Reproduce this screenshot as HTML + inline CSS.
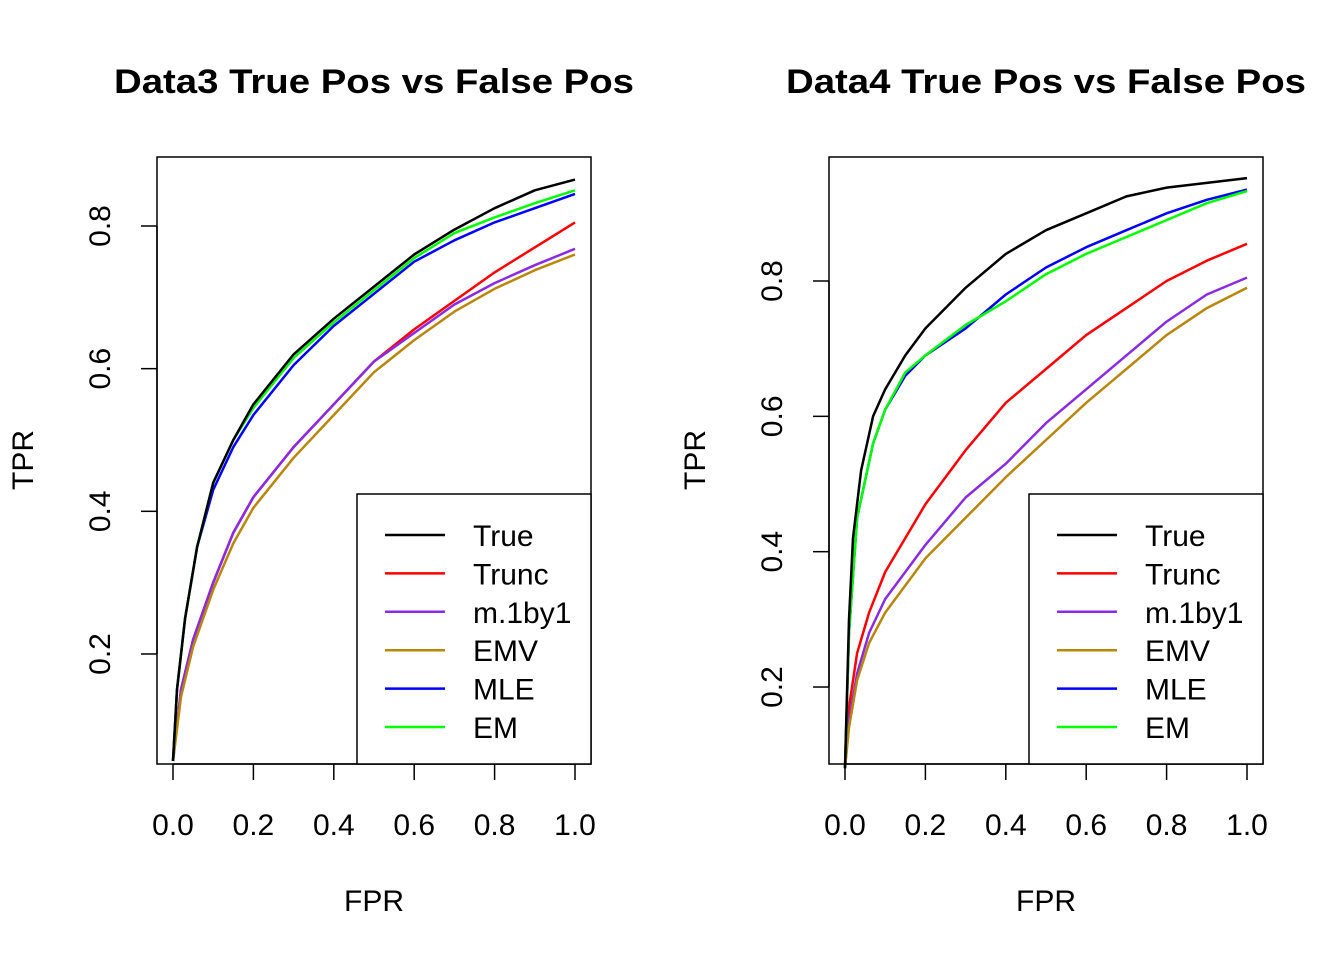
<!DOCTYPE html>
<html><head><meta charset="utf-8"><style>
html,body{margin:0;padding:0;background:#fff}
svg{display:block;font-family:"Liberation Sans",Arial,sans-serif}
</style></head><body>
<svg id="s" width="1344" height="960" xmlns="http://www.w3.org/2000/svg"></svg>
<script>
const s=document.getElementById('s');
let h='';
const cols={True:'#000',Trunc:'#ff0000','m.1by1':'#8a2be2',EMV:'#b8860b',MLE:'#0000ff',EM:'#00ff00'};
const panels=[
 {bx:157,x0:173,x1:575,yref:226,vref:0.8,ppu:713.3,title:'Data3 True Pos vs False Pos',cx:374,
  ticks:[0.2,0.4,0.6,0.8],
  data:{
   True:[[0,.05],[.01,.15],[.03,.25],[.06,.35],[.1,.44],[.15,.5],[.2,.55],[.3,.62],[.4,.67],[.5,.715],[.6,.76],[.7,.795],[.8,.825],[.9,.85],[1,.865]],
   Trunc:[[0,.05],[.02,.15],[.05,.22],[.1,.3],[.15,.37],[.2,.42],[.3,.49],[.4,.55],[.5,.61],[.6,.655],[.7,.695],[.8,.735],[.9,.77],[1,.805]],
   'm.1by1':[[0,.05],[.02,.15],[.05,.22],[.1,.3],[.15,.37],[.2,.42],[.3,.49],[.4,.55],[.5,.61],[.6,.65],[.7,.69],[.8,.72],[.9,.745],[1,.768]],
   EMV:[[0,.05],[.02,.14],[.05,.21],[.1,.29],[.15,.355],[.2,.405],[.3,.475],[.4,.535],[.5,.595],[.6,.64],[.7,.68],[.8,.712],[.9,.738],[1,.76]],
   MLE:[[0,.05],[.01,.15],[.03,.25],[.06,.35],[.1,.43],[.15,.49],[.2,.535],[.3,.605],[.4,.66],[.5,.705],[.6,.75],[.7,.78],[.8,.805],[.9,.825],[1,.845]],
   EM:[[0,.05],[.01,.15],[.03,.25],[.06,.35],[.1,.44],[.15,.5],[.2,.545],[.3,.615],[.4,.665],[.5,.71],[.6,.755],[.7,.79],[.8,.812],[.9,.832],[1,.85]]}},
 {bx:829,x0:845,x1:1247,yref:281,vref:0.8,ppu:676.7,title:'Data4 True Pos vs False Pos',cx:1046,
  ticks:[0.2,0.4,0.6,0.8],
  data:{
   True:[[0,.08],[.01,.3],[.02,.42],[.04,.52],[.07,.6],[.1,.64],[.15,.69],[.2,.73],[.3,.79],[.4,.84],[.5,.875],[.6,.9],[.7,.925],[.8,.938],[.9,.945],[1,.952]],
   Trunc:[[0,.08],[.01,.17],[.03,.25],[.06,.31],[.1,.37],[.15,.42],[.2,.47],[.3,.55],[.4,.62],[.5,.67],[.6,.72],[.7,.76],[.8,.8],[.9,.83],[1,.855]],
   'm.1by1':[[0,.08],[.01,.15],[.03,.22],[.06,.28],[.1,.33],[.15,.37],[.2,.41],[.3,.48],[.4,.53],[.5,.59],[.6,.64],[.7,.69],[.8,.74],[.9,.78],[1,.805]],
   EMV:[[0,.08],[.01,.14],[.03,.21],[.06,.265],[.1,.31],[.15,.35],[.2,.39],[.3,.45],[.4,.51],[.5,.565],[.6,.62],[.7,.67],[.8,.72],[.9,.76],[1,.79]],
   MLE:[[0,.08],[.01,.28],[.03,.45],[.07,.56],[.1,.61],[.15,.66],[.2,.69],[.3,.73],[.4,.78],[.5,.82],[.6,.85],[.7,.875],[.8,.9],[.9,.92],[1,.935]],
   EM:[[0,.08],[.01,.28],[.03,.45],[.07,.56],[.1,.61],[.15,.665],[.2,.69],[.3,.735],[.4,.77],[.5,.81],[.6,.84],[.7,.865],[.8,.89],[.9,.915],[1,.933]]}}
];
for(const p of panels){
 const X=v=>p.x0+v*(p.x1-p.x0), Y=v=>p.yref+(p.vref-v)*p.ppu;
 h+=`<text x="${p.cx}" y="93" font-size="34" font-weight="bold" text-anchor="middle" textLength="520" lengthAdjust="spacingAndGlyphs">${p.title}</text>`;
 for(const k of ['Trunc','m.1by1','EMV','MLE','EM','True']){
  h+=`<polyline fill="none" stroke="${cols[k]}" stroke-width="2.5" stroke-linejoin="round" points="${p.data[k].map(d=>X(d[0]).toFixed(1)+','+Y(d[1]).toFixed(1)).join(' ')}"/>`;
 }
 h+=`<rect x="${p.bx}" y="157" width="434" height="607" fill="none" stroke="#000" stroke-width="1.5"/>`;
 h+=`<line x1="${p.x0}" y1="764" x2="${p.x1}" y2="764" stroke="#000" stroke-width="1.5"/>`;
 for(let i=0;i<=5;i++){const x=X(i/5);h+=`<line x1="${x}" y1="764" x2="${x}" y2="780" stroke="#000" stroke-width="1.5"/><text x="${x}" y="835" font-size="30" text-anchor="middle">${(i/5).toFixed(1)}</text>`;}
 const yt=p.ticks.map(Y);
 h+=`<line x1="${p.bx}" y1="${yt[0]}" x2="${p.bx}" y2="${yt[3]}" stroke="#000" stroke-width="1.5"/>`;
 p.ticks.forEach((t,i)=>{const y=yt[i];h+=`<line x1="${p.bx-16}" y1="${y}" x2="${p.bx}" y2="${y}" stroke="#000" stroke-width="1.5"/><text transform="translate(${p.bx-47},${y}) rotate(-90)" font-size="30" text-anchor="middle">${t.toFixed(1)}</text>`;});
 h+=`<text x="${p.cx}" y="911" font-size="30" text-anchor="middle">FPR</text>`;
 h+=`<text transform="translate(${p.bx-124},460) rotate(-90)" font-size="30" text-anchor="middle">TPR</text>`;
 const lx=p.bx+200;
 h+=`<rect x="${lx}" y="494" width="234" height="270" fill="#fff" stroke="#000" stroke-width="1.5"/>`;
 ['True','Trunc','m.1by1','EMV','MLE','EM'].forEach((k,i)=>{const y=535+i*38.4;
  h+=`<line x1="${lx+28}" y1="${y}" x2="${lx+88}" y2="${y}" stroke="${cols[k]}" stroke-width="2.5"/><text x="${lx+116}" y="${y+11}" font-size="30">${k}</text>`;});
}
s.innerHTML=h;
</script>
</body></html>
